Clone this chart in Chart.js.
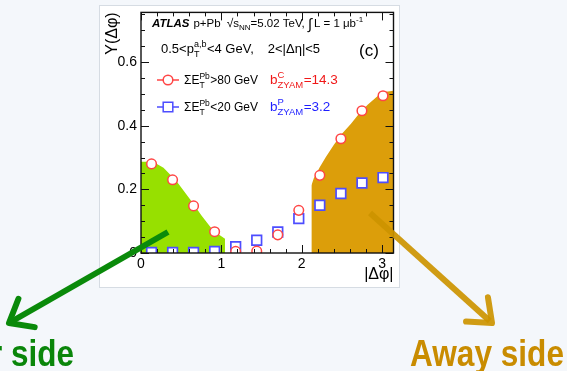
<!DOCTYPE html>
<html>
<head>
<meta charset="utf-8">
<script src="https://cdn.jsdelivr.net/npm/chart.js"></script>
<style>
  html, body { margin: 0; padding: 0; background: #f4f7fb; }
  canvas { display: block; }
</style>
</head>
<body>
<canvas id="c" width="567" height="371"></canvas>
<script>
// |Δφ| bin centres (12 bins over 0..π)
const dphi = [0.131, 0.393, 0.654, 0.916, 1.178, 1.440, 1.702, 1.963, 2.225, 2.487, 2.749, 3.011];
// per-trigger yield, ΣE_T^Pb > 80 GeV (central)
const yCentral = [0.280, 0.230, 0.148, 0.067, 0.005, 0.006, 0.057, 0.134, 0.244, 0.359, 0.447, 0.494];
// per-trigger yield, ΣE_T^Pb < 20 GeV (peripheral)
const yPeripheral = [0.002, 0.002, 0.002, 0.005, 0.020, 0.040, 0.066, 0.108, 0.150, 0.187, 0.220, 0.237];

// near-side shaded region (outline along its upper edge)
const nearX = [0, 0.15, 0.28, 0.44, 0.61, 0.755, 0.90, 1.045, 1.045];
const nearY = [0.287, 0.287, 0.268, 0.226, 0.169, 0.117, 0.070, 0.045, 0];
// away-side shaded region
const awayX = [2.12, 2.12, 2.15, 2.22, 2.30, 2.40, 2.50, 2.61, 2.72, 2.82, 2.92, 3.00, 3.1416];
const awayY = [0, 0.212, 0.235, 0.268, 0.302, 0.340, 0.375, 0.405, 0.440, 0.466, 0.488, 0.505, 0.510];

// axis ticks and labels
const xTicks = [0, 1, 2, 3];
const xTickLabels = ['0', '1', '2', '3'];
const yTicks = [0, 0.2, 0.4, 0.6];
const yTickLabels = ['0', '0.2', '0.4', '0.6'];
const xMinorStep = 0.2;
const yMinorStep = 0.05;

const FONT = '"Liberation Sans", Arial, Helvetica, sans-serif';
const RED = '#ff4545';
const BLUE = '#4d4dff';

const pts = (xs, ys) => xs.map((x, i) => ({ x, y: ys[i] }));

// page background and white plot panel
const panelPlugin = {
  id: 'panel',
  beforeDraw(chart) {
    const ctx = chart.ctx;
    ctx.save();
    ctx.fillStyle = '#f4f7fb';
    ctx.fillRect(0, 0, chart.width, chart.height);
    ctx.fillStyle = '#ffffff';
    ctx.fillRect(99, 5, 301, 283);
    ctx.strokeStyle = '#d6dce3';
    ctx.lineWidth = 1;
    ctx.strokeRect(99.5, 5.5, 300, 282);
    ctx.restore();
  }
};

// frame with inward ticks on all four sides
const framePlugin = {
  id: 'frame',
  afterDatasetsDraw(chart) {
    const { ctx, chartArea: a, scales: { x, y } } = chart;
    ctx.save();
    ctx.strokeStyle = '#111';
    ctx.lineWidth = 1.4;
    ctx.strokeRect(a.left, a.top, a.right - a.left, a.bottom - a.top);
    ctx.lineWidth = 1;
    ctx.beginPath();
    const xMajor = 8, xMinor = 4, yMajor = 8, yMinor = 4;
    for (let v = 0; v <= x.max + 1e-9; v += xMinorStep) {
      const isMajor = xTicks.some(t => Math.abs(t - v) < 1e-6);
      const len = isMajor ? xMajor : xMinor;
      const px = Math.round(x.getPixelForValue(v)) + 0.5;
      ctx.moveTo(px, a.bottom); ctx.lineTo(px, a.bottom - len);
      ctx.moveTo(px, a.top); ctx.lineTo(px, a.top + len);
    }
    for (let v = 0; v <= y.max + 1e-9; v += yMinorStep) {
      const isMajor = yTicks.some(t => Math.abs(t - v) < 1e-6);
      const len = isMajor ? yMajor : yMinor;
      const py = Math.round(y.getPixelForValue(v)) + 0.5;
      ctx.moveTo(a.left, py); ctx.lineTo(a.left + len, py);
      ctx.moveTo(a.right, py); ctx.lineTo(a.right - len, py);
    }
    ctx.stroke();
    ctx.restore();
  }
};

// text run helpers (sub/superscripts)
function run(ctx, st, text, size, o = {}) {
  ctx.font = `${o.italic ? 'italic ' : ''}${o.bold ? 'bold ' : ''}${size}px ${FONT}`;
  ctx.fillStyle = o.color || st.color;
  ctx.fillText(text, st.x, st.y + (o.dy || 0));
  const w = ctx.measureText(text).width;
  if (!o.stay) st.x += w;
  return w;
}
function supSub(ctx, st, sup, sub, size, color) {
  const w1 = sup ? run(ctx, st, sup, size, { dy: -size * 0.62, stay: true, color }) : 0;
  const w2 = sub ? run(ctx, st, sub, size, { dy: size * 0.42, stay: true, color }) : 0;
  st.x += Math.max(w1, w2) + 0.5;
}

function arrow(ctx, x0, y0, x1, y1, color) {
  const ang = Math.atan2(y0 - y1, x0 - x1);
  const L = 26, spread = 0.68;
  ctx.save();
  ctx.strokeStyle = color;
  ctx.lineWidth = 6;
  ctx.lineCap = 'butt';
  ctx.beginPath();
  ctx.moveTo(x0, y0);
  ctx.lineTo(x1 + Math.cos(ang) * 3, y1 + Math.sin(ang) * 3);
  ctx.stroke();
  ctx.lineJoin = 'round';
  ctx.lineCap = 'round';
  ctx.beginPath();
  ctx.moveTo(x1 + Math.cos(ang - spread) * L, y1 + Math.sin(ang - spread) * L);
  ctx.lineTo(x1, y1);
  ctx.lineTo(x1 + Math.cos(ang + spread) * L, y1 + Math.sin(ang + spread) * L);
  ctx.stroke();
  ctx.restore();
}

function bigLabel(ctx, text, fitText, fitWidth, xRight, baseline, color) {
  ctx.save();
  ctx.font = `bold 37px ${FONT}`;
  const sx = fitWidth / ctx.measureText(fitText).width;
  ctx.translate(xRight, baseline);
  ctx.scale(sx, 1);
  ctx.textAlign = 'right';
  ctx.textBaseline = 'alphabetic';
  ctx.fillStyle = color;
  ctx.fillText(text, 0, 0);
  ctx.restore();
}

const annotationPlugin = {
  id: 'annotations',
  afterDraw(chart) {
    const ctx = chart.ctx;
    ctx.save();
    ctx.textBaseline = 'alphabetic';
    ctx.textAlign = 'left';

    // header line
    let st = { x: 152, y: 27, color: '#000' };
    run(ctx, st, 'ATLAS', 11.5, { bold: true, italic: true });
    st.x += 4;
    run(ctx, st, 'p+Pb', 11.5);
    st.x += 6;
    run(ctx, st, '\u221A', 12);
    run(ctx, st, 's', 11.5);
    run(ctx, st, 'NN', 8, { dy: 3 });
    run(ctx, st, '=5.02 TeV,', 11.5);
    st.x += 3;
    run(ctx, st, '\u222B', 15, { dy: 2 });
    st.x += 2;
    run(ctx, st, 'L = 1 \u03BCb', 11.5);
    run(ctx, st, '-1', 8, { dy: -5 });

    // kinematic selection
    st = { x: 161, y: 53, color: '#000' };
    run(ctx, st, '0.5<p', 13);
    supSub(ctx, st, 'a,b', 'T', 9);
    run(ctx, st, '<4 GeV,', 13);
    st.x += 14;
    run(ctx, st, '2<|\u0394\u03B7|<5', 13);

    st = { x: 359, y: 56, color: '#000' };
    run(ctx, st, '(c)', 17);

    // legend rows
    const rows = [
      { y: 80, color: RED, style: 'circle', op: '>80 GeV', sup: 'C', val: '=14.3', txt: '#f01818' },
      { y: 107, color: BLUE, style: 'rect', op: '<20 GeV', sup: 'P', val: '=3.2', txt: '#1e1eff' }
    ];
    rows.forEach(r => {
      ctx.strokeStyle = r.color;
      ctx.lineWidth = 1.5;
      ctx.beginPath();
      ctx.moveTo(157, r.y); ctx.lineTo(179, r.y);
      ctx.stroke();
      ctx.fillStyle = '#fff';
      ctx.beginPath();
      if (r.style === 'circle') ctx.arc(168, r.y, 4.8, 0, Math.PI * 2);
      else ctx.rect(163.2, r.y - 4.8, 9.6, 9.6);
      ctx.fill();
      ctx.stroke();

      let s = { x: 184, y: r.y + 4, color: '#000' };
      run(ctx, s, '\u03A3E', 12);
      supSub(ctx, s, 'Pb', 'T', 8.5, '#000');
      run(ctx, s, r.op, 12);

      s = { x: 270, y: r.y + 4, color: r.txt };
      run(ctx, s, 'b', 13.5);
      supSub(ctx, s, r.sup, 'ZYAM', 9.5, r.txt);
      run(ctx, s, r.val, 13.5);
    });

    // near / away side pointers
    arrow(ctx, 168, 232, 9, 323, '#0a8a0a');
    arrow(ctx, 370, 213, 492, 323, 'rgba(204,148,0,0.92)');
    bigLabel(ctx, 'Near side', 'side', 63, 74, 366, '#0a860a');
    bigLabel(ctx, 'Away side', 'Away side', 154, 564, 366, '#c98c00');
    ctx.restore();
  }
};

new Chart(document.getElementById('c'), {
  type: 'line',
  data: {
    datasets: [
      {
        label: 'ΣE_T^Pb>80 GeV',
        data: pts(dphi, yCentral),
        showLine: false,
        pointStyle: 'circle',
        pointRadius: 4.8,
        pointBorderWidth: 1.5,
        pointBorderColor: RED,
        pointBackgroundColor: '#fff',
        order: 0
      },
      {
        label: 'ΣE_T^Pb<20 GeV',
        data: pts(dphi, yPeripheral),
        showLine: false,
        pointStyle: 'rect',
        pointRadius: 6.8,
        pointBorderWidth: 1.7,
        pointBorderColor: BLUE,
        pointBackgroundColor: '#fff',
        order: 1
      },
      {
        label: 'near side',
        data: pts(nearX, nearY),
        fill: 'origin',
        backgroundColor: '#97e000',
        borderWidth: 0,
        pointRadius: 0,
        tension: 0,
        order: 2
      },
      {
        label: 'away side',
        data: pts(awayX, awayY),
        fill: 'origin',
        backgroundColor: '#dc9e0a',
        borderWidth: 0,
        pointRadius: 0,
        tension: 0,
        order: 3
      }
    ]
  },
  options: {
    responsive: false,
    devicePixelRatio: 1,
    animation: false,
    events: [],
    layout: { padding: { left: 101, right: 173.5, top: 12, bottom: 87 } },
    plugins: { legend: { display: false }, tooltip: { enabled: false } },
    scales: {
      x: {
        type: 'linear',
        min: 0,
        max: Math.PI,
        afterFit: s => { s.height = 31; },
        afterBuildTicks: s => { s.ticks = xTicks.map(v => ({ value: v })); },
        grid: { display: false, drawTicks: false },
        border: { display: false },
        ticks: {
          padding: 3,
          color: '#000',
          font: { family: FONT, size: 14 },
          maxRotation: 0,
          callback: v => xTickLabels[xTicks.indexOf(v)]
        },
        title: {
          display: true,
          text: '|\u0394\u03C6|',
          align: 'end',
          color: '#000',
          font: { family: FONT, size: 16 },
          padding: { top: 0, bottom: 0 }
        }
      },
      y: {
        min: 0,
        max: 0.756,
        afterFit: s => { s.width = 40; },
        afterBuildTicks: s => { s.ticks = yTicks.map(v => ({ value: v })); },
        grid: { display: false, drawTicks: false },
        border: { display: false },
        ticks: {
          padding: 4,
          color: '#000',
          font: { family: FONT, size: 14 },
          callback: v => yTickLabels[yTicks.indexOf(v)]
        },
        title: {
          display: true,
          text: 'Y(\u0394\u03C6)',
          align: 'end',
          color: '#000',
          font: { family: FONT, size: 16 },
          padding: { top: 2, bottom: 0 }
        }
      }
    }
  },
  plugins: [panelPlugin, framePlugin, annotationPlugin]
});
</script>
</body>
</html>
